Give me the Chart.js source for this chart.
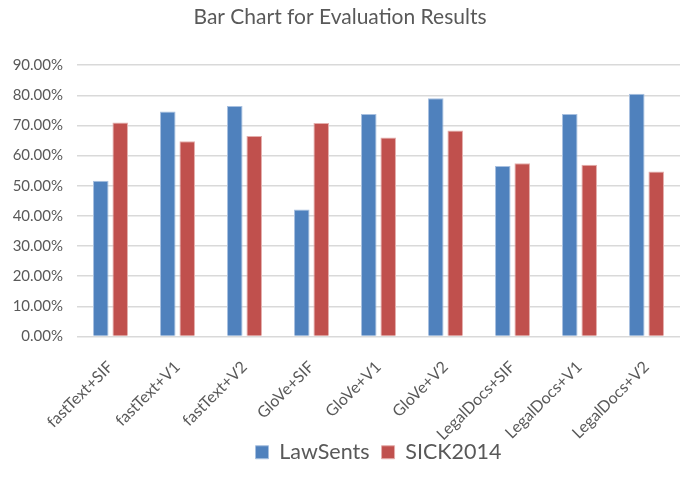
<!DOCTYPE html>
<html>
<head>
<meta charset="utf-8">
<script src="https://cdn.jsdelivr.net/npm/chart.js@4/dist/chart.umd.min.js"></script>
<style>
  html, body { margin: 0; padding: 0; background: #ffffff; }
  canvas { display: block; }
</style>
</head>
<body>
<canvas id="chart" width="680" height="492"></canvas>
<script>
var categories = ["fastText+SIF", "fastText+V1", "fastText+V2", "GloVe+SIF", "GloVe+V1", "GloVe+V2", "LegalDocs+SIF", "LegalDocs+V1", "LegalDocs+V2"];
var lawSents = [51.7, 74.6, 76.5, 42.1, 73.8, 79.0, 56.6, 73.8, 80.5];
var sick2014 = [71.0, 64.8, 66.5, 70.8, 66.0, 68.3, 57.5, 57.0, 54.7];

var ctx = document.getElementById("chart");

var chartGraph = new Chart(ctx, {
    type: 'bar',
    data: {
        labels: categories,
        datasets: [
            {
                label: "LawSents",
                data: lawSents,
                backgroundColor: '#4f81bd',
                borderColor: '#a7c0e0',
                borderWidth: 1,
                categoryPercentage: 0.58,
                barPercentage: 0.8
            },
            {
                label: "SICK2014",
                data: sick2014,
                backgroundColor: '#c0504d',
                borderColor: '#e4aeac',
                borderWidth: 1,
                categoryPercentage: 0.58,
                barPercentage: 0.8
            }
        ]
    },
    options: {
        responsive: false,
        animation: false,
        layout: {
            padding: { left: 0, right: 0, top: 0, bottom: 19 }
        },
        plugins: {
            title: {
                display: true,
                text: "Bar Chart for Evaluation Results",
                color: '#595959',
                font: { family: 'Lato', size: 21, weight: 'normal' },
                padding: { top: 5, bottom: 35 }
            },
            legend: {
                position: 'bottom',
                fullSize: false,
                labels: {
                    color: '#595959',
                    font: { family: 'Lato', size: 21.5 },
                    boxWidth: 13,
                    boxHeight: 13,
                    padding: 12
                }
            },
            tooltip: { enabled: false }
        },
        scales: {
            x: {
                grid: { display: false },
                border: { display: false },
                ticks: {
                    color: '#595959',
                    font: { family: 'Lato', size: 16 },
                    autoSkip: false,
                    minRotation: 45,
                    maxRotation: 45,
                    padding: 13
                },
                afterFit: function (scale) {
                    scale.height = 93;
                    // let the rotated labels run past the axis box, as in the original
                    scale._computeLabelArea = function () { return undefined; };
                }
            },
            y: {
                min: 0,
                max: 90,
                border: { display: false },
                grid: { color: '#d9d9d9', lineWidth: 1.5, drawTicks: false },
                ticks: {
                    stepSize: 10,
                    color: '#595959',
                    font: { family: 'Lato', size: 15 },
                    padding: 14,
                    callback: function (value) { return value.toFixed(2) + '%'; }
                },
                afterFit: function (scale) { scale.width = 77; }
            }
        }
    }
});
</script>
</body>
</html>
